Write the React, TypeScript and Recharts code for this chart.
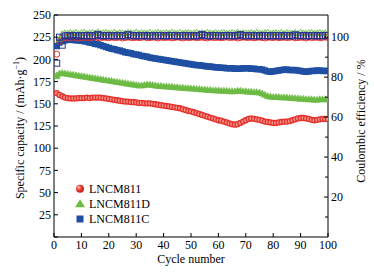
import React from 'react';
import { ScatterChart, Scatter, XAxis, YAxis, ReferenceLine } from 'recharts';

const FONT = '"Liberation Serif", "Times New Roman", serif';

const cycles: number[] = Array.from({ length: 100 }, (_, i) => i + 1);

const seriesNames = ['LNCM811', 'LNCM811D', 'LNCM811C'];

const capLNCM811 = [
  162, 160, 158.5, 157, 156.5, 156, 156, 156, 156.5, 156.5,
  156.5, 157, 156.5, 157, 157, 157, 157, 156.5, 156, 155.5,
  155, 154.5, 154, 153.5, 153, 152.5, 152.5, 152, 152, 151.5,
  151, 151, 150.5, 150.5, 150.5, 150, 149.5, 149, 148.5, 148,
  147.5, 147, 146.5, 146, 145.5, 145, 144, 143, 142, 141.5,
  140.5, 139.5, 138.5, 137.5, 136.5, 135.5, 134.5, 133.5, 132.5, 131.5,
  131, 130, 129, 128, 127, 126.5, 127, 128.5, 130, 131.5,
  133, 133.5, 133, 132.5, 132, 131, 130, 129.5, 129, 128.5,
  128.5, 129, 129.5, 130, 130, 130.5, 131.5, 132.5, 133.5, 134,
  134, 133.5, 133, 132, 131.5, 132, 132.5, 133, 133, 133,
];

const capLNCM811D = [
  181, 184, 184.5, 184, 183.5, 183, 182.5, 182, 181.5, 181,
  180.5, 180, 179.5, 179, 178.5, 178, 177.5, 177, 176.5, 176,
  175.5, 175, 174.5, 174, 173.5, 173, 172.5, 172, 171.5, 171,
  170.5, 170.5, 171, 171.5, 171.5, 171, 170.5, 170, 170, 169.5,
  169.5, 169, 169, 168.5, 168.5, 168, 168, 167.5, 167.5, 167,
  167, 166.5, 166.5, 166, 166, 165.5, 165.5, 165, 165, 165,
  164.5, 164.5, 164.5, 164, 164, 164, 164.5, 164.5, 164, 164,
  163.5, 163.5, 163, 163, 162.5, 161.5, 160, 158.5, 158, 157.5,
  157.5, 157.5, 157, 157, 157, 156.5, 156.5, 156, 156, 155.5,
  155.5, 155, 155, 155, 154.5, 154.5, 155, 155, 155, 155,
];

const capLNCM811C = [
  215, 219, 220.5, 221.5, 222, 222, 222, 221.5, 221.5, 221,
  220.5, 220, 219, 218.5, 217.5, 217, 216, 215, 214, 213,
  212, 211.5, 210.5, 210, 209, 208, 207.5, 207, 206, 205.5,
  205, 204, 203.5, 203, 202, 201.5, 201, 200.5, 200, 199.5,
  199, 198.5, 198, 197.5, 197, 196.5, 196, 195.5, 195, 194.5,
  194, 193.5, 193.5, 193, 192.5, 192, 192, 191.5, 191, 191,
  190.5, 190.5, 190, 190, 190, 189.5, 189.5, 189.5, 190, 190,
  190, 189.5, 189.5, 189, 189, 188.5, 187.5, 186.5, 186, 186.5,
  187, 187.5, 188, 188.5, 188.5, 188, 188, 188, 187.5, 187,
  186.5, 186, 186.5, 187, 187, 187.5, 187.5, 187, 187, 187,
];

const ceLNCM811 = [
  91.5, 98.0, 99.6, 99.8, 100.0, 99.7, 100.1, 99.9, 99.6, 100.0,
  99.8, 100.1, 99.7, 99.9, 100.2, 99.8, 99.6, 100.0, 99.9, 99.7,
  100.1, 99.8, 99.9, 100.0, 99.6, 99.8, 100.1, 99.9, 99.7, 100.0,
  99.8, 99.9, 100.2, 99.7, 99.8, 100.0, 99.9, 99.6, 100.1, 99.8,
  99.9, 100.0, 99.7, 99.8, 100.1, 99.9, 99.6, 100.0, 99.8, 99.9,
  100.1, 99.7, 99.9, 100.0, 99.8, 99.6, 100.1, 99.9, 99.8, 100.0,
  99.7, 99.9, 100.2, 99.8, 99.9, 100.0, 99.6, 99.8, 100.1, 99.9,
  99.8, 100.0, 99.7, 99.9, 100.1, 99.8, 99.6, 100.0, 99.9, 99.8,
  100.1, 99.7, 99.9, 100.0, 99.8, 99.9, 100.2, 99.7, 99.8, 100.0,
  99.9, 99.6, 100.1, 99.8, 99.9, 100.0, 99.7, 99.9, 100.1, 99.8,
];

const ceLNCM811D = [
  81.0, 99.0, 101.6, 102.0, 101.8, 102.2, 101.9, 102.3, 101.7, 102.1,
  102.4, 101.8, 102.0, 102.2, 101.9, 102.5, 101.8, 102.1, 102.3, 101.9,
  102.0, 102.4, 101.7, 102.2, 102.0, 101.8, 102.3, 102.1, 101.9, 102.5,
  101.8, 102.2, 102.0, 101.9, 102.4, 101.8, 102.1, 102.3, 101.9, 102.0,
  102.2, 101.8, 102.4, 102.0, 101.9, 102.3, 101.8, 102.1, 102.2, 101.9,
  102.0, 102.4, 101.8, 102.1, 101.9, 102.3, 102.0, 101.8, 102.2, 101.9,
  102.1, 102.3, 101.8, 102.0, 102.2, 101.9, 102.4, 101.8, 102.1, 102.0,
  101.9, 102.2, 101.8, 102.3, 102.0, 101.9, 102.1, 102.4, 101.8, 102.0,
  102.2, 101.9, 102.3, 101.8, 102.1, 102.0, 101.9, 102.2, 101.8, 102.4,
  102.0, 101.9, 102.1, 102.3, 101.8, 102.0, 102.2, 101.9, 102.1, 102.0,
];

const ceLNCM811C = [
  87.0, 100.0, 96.0, 100.6, 100.8, 100.5, 100.9, 100.7, 100.6, 100.8,
  100.7, 100.9, 100.6, 100.8, 100.7, 101.4, 100.8, 100.6, 100.9, 100.7,
  100.8, 100.6, 100.9, 100.7, 100.8, 100.6, 101.3, 100.7, 100.9, 100.6,
  100.8, 100.7, 100.9, 100.6, 100.8, 100.7, 100.6, 100.9, 100.8, 100.7,
  100.6, 100.8, 100.9, 100.7, 100.6, 100.8, 100.7, 100.9, 100.6, 100.8,
  100.7, 100.6, 100.9, 101.4, 100.8, 100.7, 100.6, 100.9, 100.8, 100.7,
  100.6, 100.8, 100.9, 100.7, 100.8, 100.6, 100.9, 101.3, 100.7, 100.8,
  100.6, 100.9, 100.7, 100.8, 100.6, 100.9, 100.7, 100.8, 100.6, 100.9,
  100.7, 100.8, 100.6, 100.9, 100.7, 100.8, 100.6, 101.2, 100.8, 100.7,
  100.9, 100.6, 100.8, 100.7, 100.9, 100.6, 100.8, 100.7, 100.9, 100.8,
];

const xTicks = [0, 10, 20, 30, 40, 50, 60, 70, 80, 90, 100];
const capTicks = [0, 25, 50, 75, 100, 125, 150, 175, 200, 225, 250];
const ceTicks = [10, 20, 30, 40, 50, 60, 70, 80, 90, 100];
const ceLabelled = [20, 40, 60, 80, 100];

const RED = '#e6302a';
const GREEN = '#6cbb45';
const BLUE = '#1f4fa3';
const NAVY = '#2a3290';

const toPoints = (ys: number[]) => cycles.map((c, i) => ({ x: c, y: ys[i] }));

const BottomTick = (p: any) => (
  <g>
    <line x1={p.x} x2={p.x} y1={p.y} y2={p.y - 4} stroke="#000" strokeWidth={1} />
    <text x={p.x} y={p.y + 12} textAnchor="middle" fontSize={12} fontFamily={FONT} fill="#000">
      {p.payload.value}
    </text>
  </g>
);

const LeftTick = (p: any) => (
  <g>
    <line x1={p.x} x2={p.x + 4} y1={p.y} y2={p.y} stroke="#000" strokeWidth={1} />
    {p.payload.value !== 0 && (
      <text x={p.x - 3} y={p.y + 4.2} textAnchor="end" fontSize={12} fontFamily={FONT} fill="#000">
        {p.payload.value}
      </text>
    )}
  </g>
);

const RightTick = (p: any) => {
  const major = ceLabelled.includes(p.payload.value);
  return (
    <g>
      <line x1={p.x} x2={p.x - (major ? 4 : 3)} y1={p.y} y2={p.y} stroke="#000" strokeWidth={1} />
      {major && (
        <text x={p.x + 3} y={p.y + 4.2} textAnchor="start" fontSize={12} fontFamily={FONT} fill="#000">
          {p.payload.value}
        </text>
      )}
    </g>
  );
};

const capRedShape = (p: any) => (
  <circle cx={p.cx} cy={p.cy} r={2.5} fill="#f39a92" stroke={RED} strokeWidth={1.3} />
);
const capGreenShape = (p: any) => (
  <path
    d={`M${p.cx},${p.cy - 3.6} L${p.cx + 3.4},${p.cy + 2.4} L${p.cx - 3.4},${p.cy + 2.4} Z`}
    fill={GREEN}
    stroke={GREEN}
    strokeWidth={0.6}
  />
);
const capBlueShape = (p: any) => (
  <rect x={p.cx - 3.2} y={p.cy - 3.2} width={6.4} height={6.4} fill={BLUE} />
);
const ceRedShape = (p: any) => (
  <circle cx={p.cx} cy={p.cy} r={3} fill="none" stroke={RED} strokeWidth={1} />
);
const ceGreenShape = (p: any) => (
  <path
    d={`M${p.cx},${p.cy - 3.3} L${p.cx + 3.2},${p.cy + 2.2} L${p.cx - 3.2},${p.cy + 2.2} Z`}
    fill="none"
    stroke={GREEN}
    strokeWidth={0.9}
  />
);
const ceBlueShape = (p: any) => (
  <rect x={p.cx - 3} y={p.cy - 3} width={6} height={6} fill="none" stroke={NAVY} strokeWidth={1} />
);

const CapLabel = () => (
  <text
    x={20}
    y={128}
    transform="rotate(-90 20 128)"
    textAnchor="middle"
    dominantBaseline="central"
    fontSize={12}
    fontFamily={FONT}
    fill="#000"
  >
    Specific capacity / (mAh·g
    <tspan dy={-4} fontSize={8}>−1</tspan>
    <tspan dy={4}>)</tspan>
  </text>
);

const CeLabel = () => (
  <text
    x={361}
    y={121}
    transform="rotate(-90 361 121)"
    textAnchor="middle"
    dominantBaseline="central"
    fontSize={12}
    fontFamily={FONT}
    fill="#000"
  >
    Coulombic efficiency / %
  </text>
);

const XLabel = () => (
  <text x={191} y={263} textAnchor="middle" fontSize={12} fontFamily={FONT} fill="#000">
    Cycle number
  </text>
);

const LegendBox = () => {
  const rows = [8.7, 23.7, 39];
  return (
    <svg
      width={120}
      height={50}
      style={{ position: 'absolute', left: 70, top: 180, display: 'block', overflow: 'visible' }}
    >
      <defs>
        <radialGradient id="redBall" cx="0.35" cy="0.35" r="0.7">
          <stop offset="0" stopColor="#ffd0cc" />
          <stop offset="0.45" stopColor="#ef3b30" />
          <stop offset="1" stopColor="#c21c14" />
        </radialGradient>
      </defs>
      <circle cx={10} cy={rows[0]} r={4} fill="url(#redBall)" />
      <path d={`M10,${rows[1] - 4.5} L15,${rows[1] + 3.5} L5,${rows[1] + 3.5} Z`} fill={GREEN} />
      <rect x={6.5} y={rows[2] - 3.5} width={7} height={7} fill={BLUE} />
      {seriesNames.map((n, i) => (
        <text key={n} x={19} y={rows[i] + 4.2} fontSize={12} fontFamily={FONT} fill="#000">
          {n}
        </text>
      ))}
    </svg>
  );
};

export default function App() {
  return (
    <div style={{ position: 'absolute', left: 0, top: 0, width: 374, height: 272, background: '#fff' }}>
      <ScatterChart width={374} height={272} margin={{ top: 15, right: 0, bottom: 0, left: 0 }}>
        <XAxis
          type="number"
          dataKey="x"
          domain={[0, 100]}
          ticks={xTicks}
          interval={0}
          height={35}
          tickSize={0}
          tickMargin={0}
          tick={BottomTick}
          tickLine={false}
          axisLine={{ stroke: '#000', strokeWidth: 1 }}
          allowDataOverflow
          label={XLabel}
        />
        <YAxis
          yAxisId="cap"
          type="number"
          dataKey="y"
          domain={[0, 250]}
          ticks={capTicks}
          interval={0}
          width={54}
          tickSize={0}
          tickMargin={0}
          tick={LeftTick}
          tickLine={false}
          axisLine={{ stroke: '#000', strokeWidth: 1 }}
          allowDataOverflow
          label={CapLabel}
        />
        <YAxis
          yAxisId="ce"
          orientation="right"
          type="number"
          dataKey="y"
          domain={[0, 111.11]}
          ticks={ceTicks}
          interval={0}
          width={46}
          tickSize={0}
          tickMargin={0}
          tick={RightTick}
          tickLine={false}
          axisLine={{ stroke: '#000', strokeWidth: 1 }}
          allowDataOverflow
          label={CeLabel}
        />
        <ReferenceLine yAxisId="cap" y={250} stroke="#000" strokeWidth={1} />
        <Scatter yAxisId="cap" name={seriesNames[0]} data={toPoints(capLNCM811)} shape={capRedShape} isAnimationActive={false} />
        <Scatter yAxisId="cap" name={seriesNames[1]} data={toPoints(capLNCM811D)} shape={capGreenShape} isAnimationActive={false} />
        <Scatter yAxisId="cap" name={seriesNames[2]} data={toPoints(capLNCM811C)} shape={capBlueShape} isAnimationActive={false} />
        <Scatter yAxisId="ce" name={seriesNames[0] + ' CE'} data={toPoints(ceLNCM811)} shape={ceRedShape} isAnimationActive={false} />
        <Scatter yAxisId="ce" name={seriesNames[1] + ' CE'} data={toPoints(ceLNCM811D)} shape={ceGreenShape} isAnimationActive={false} />
        <Scatter yAxisId="ce" name={seriesNames[2] + ' CE'} data={toPoints(ceLNCM811C)} shape={ceBlueShape} isAnimationActive={false} />
      </ScatterChart>
      <LegendBox />
    </div>
  );
}
